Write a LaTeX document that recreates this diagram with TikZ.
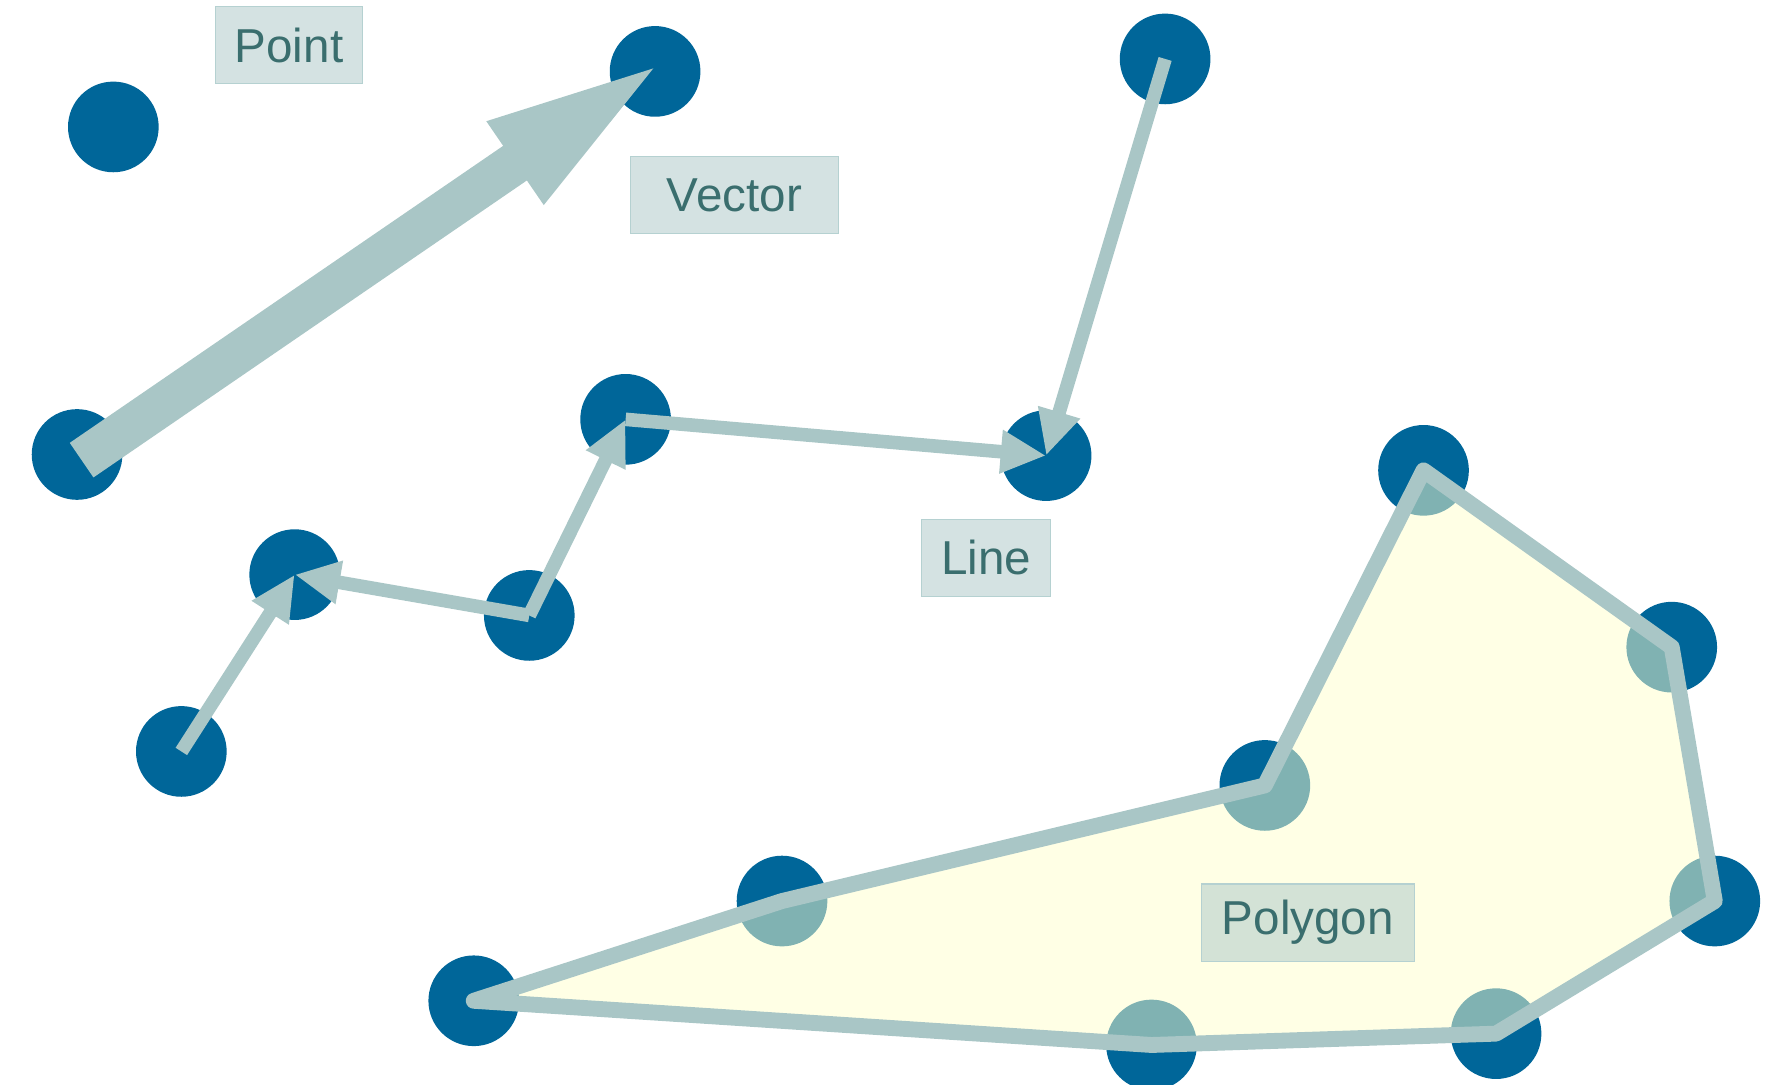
\documentclass[tikz,border=0pt]{standalone}
\usepackage{fontspec}
\setmainfont{Liberation Sans}
\usetikzlibrary{arrows.meta}
\definecolor{dot}{HTML}{006699}
\definecolor{edgec}{HTML}{A9C6C6}
\definecolor{lbltext}{HTML}{3A6E6E}
\definecolor{lblborder}{HTML}{B5D1D1}
\definecolor{polyfill}{HTML}{FFFFCC}
\begin{document}
\begin{tikzpicture}[x=1pt,y=-1pt,
  dotnode/.style={circle,fill=dot,minimum size=80pt,inner sep=0pt},
  lbl/.style={draw=lblborder,line width=1pt,fill=edgec,fill opacity=0.5,draw opacity=1,text opacity=1,text=lbltext,font=\fontsize{42}{50}\selectfont,minimum height=68pt,inner sep=0pt},
  linearrow/.style={draw=edgec,line width=12pt,-{Triangle[length=40pt,width=36pt]}},
  vecarrow/.style={draw=edgec,line width=37pt,-{Triangle[length=168pt,width=76pt]}},
  polyline/.style={draw=edgec,line width=14pt,line join=round}]
\useasboundingbox (0,0) rectangle (1567,957);
% Point
\node[dotnode] (pt) at (100,112) {};
% Vector
\node[dotnode] (v1) at (68,401) {};
\node[dotnode] (v2) at (578,63) {};
\coordinate (vtail) at (72,406);
\coordinate (vtip) at (593,49);
% Line
\node[dotnode] (l1) at (160,663) {};
\node[dotnode] (l2) at (260,507) {};
\node[dotnode] (l3) at (467,543) {};
\node[dotnode] (l4) at (552,370) {};
\node[dotnode] (l5) at (923,402) {};
\node[dotnode] (l6) at (1028,52) {};
% Polygon
\node[dotnode] (p1) at (418,883) {};
\node[dotnode] (p2) at (690,795) {};
\node[dotnode] (p3) at (1116,693) {};
\node[dotnode] (p4) at (1256,415) {};
\node[dotnode] (p5) at (1475,571) {};
\node[dotnode] (p6) at (1513,795) {};
\node[dotnode] (p7) at (1320,912) {};
\node[dotnode] (p8) at (1016,922) {};
\fill[polyfill,fill opacity=0.5] (p1.center) -- (p2.center) -- (p3.center) -- (p4.center) -- (p5.center) -- (p6.center) -- (p7.center) -- (p8.center) -- cycle;
\draw[polyline] (p1.center) -- (p2.center) -- (p3.center) -- (p4.center) -- (p5.center) -- (p6.center) -- (p7.center) -- (p8.center) -- cycle;
% arrows
\draw[vecarrow] (vtail) -- (vtip);
\draw[linearrow] (l1.center) -- (l2.center);
\draw[linearrow] (l3.center) -- (l2.center);
\draw[linearrow] (l3.center) -- (l4.center);
\draw[linearrow] (l4.center) -- (l5.center);
\draw[linearrow] (l6.center) -- (l5.center);
% labels
\node[lbl,minimum width=130pt] (tpoint) at (255,40) {Point};
\node[lbl,minimum width=183pt] (tvector) at (648,172) {Vector};
\node[lbl,minimum width=114pt] (tline) at (870,492) {Line};
\node[lbl,minimum width=188pt] (tpoly) at (1154,814) {Polygon};
\end{tikzpicture}
\end{document}
